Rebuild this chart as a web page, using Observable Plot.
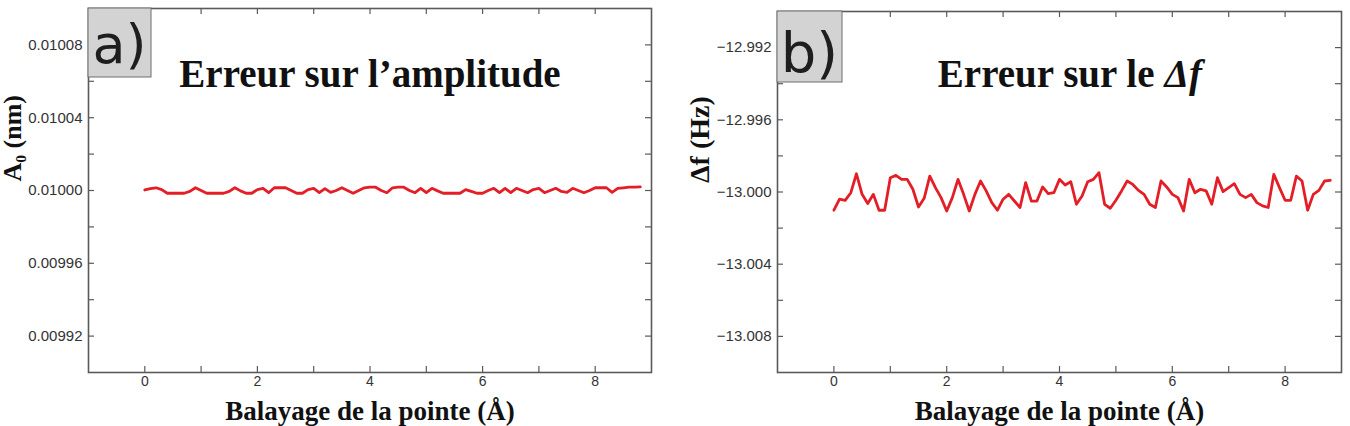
<!DOCTYPE html>
<html>
<head>
<meta charset="utf-8">
<script src="https://cdn.jsdelivr.net/npm/d3@7"></script>
<script src="https://cdn.jsdelivr.net/npm/@observablehq/plot@0.6"></script>
<style>
  html, body { margin: 0; padding: 0; background: #fff; }
  #chart { display: flex; width: 1350px; height: 426px; background: #fff; }
  #chart svg { display: block; }
</style>
</head>
<body>
<div id="chart"></div>
<script>
// Tip scan positions (Å)
const tipPositions = [
  0.0, 0.1, 0.2, 0.3, 0.4, 0.5, 0.6, 0.7, 0.8, 0.9,
  1.0, 1.1, 1.2, 1.3, 1.4, 1.5, 1.6, 1.7, 1.8, 1.9,
  2.0, 2.1, 2.2, 2.3, 2.4, 2.5, 2.6, 2.7, 2.8, 2.9,
  3.0, 3.1, 3.2, 3.3, 3.4, 3.5, 3.6, 3.7, 3.8, 3.9,
  4.0, 4.1, 4.2, 4.3, 4.4, 4.5, 4.6, 4.7, 4.8, 4.9,
  5.0, 5.1, 5.2, 5.3, 5.4, 5.5, 5.6, 5.7, 5.8, 5.9,
  6.0, 6.1, 6.2, 6.3, 6.4, 6.5, 6.6, 6.7, 6.8, 6.9,
  7.0, 7.1, 7.2, 7.3, 7.4, 7.5, 7.6, 7.7, 7.8, 7.9,
  8.0, 8.1, 8.2, 8.3, 8.4, 8.5, 8.6, 8.7, 8.8
];

// Recovered oscillation amplitude A0 (nm)
const amplitudeA0 = [
  0.0100003, 0.0100010, 0.0100015, 0.0100005, 0.0099985, 0.0099985, 0.0099985, 0.0099985, 0.0099995, 0.0100015,
  0.0100000, 0.0099985, 0.0099985, 0.0099985, 0.0099985, 0.0099995, 0.0100015, 0.0099998, 0.0099985, 0.0099985,
  0.0100005, 0.0100012, 0.0099988, 0.0100015, 0.0100015, 0.0100015, 0.0100000, 0.0099985, 0.0099985, 0.0100005,
  0.0100012, 0.0099988, 0.0100010, 0.0099990, 0.0100000, 0.0100015, 0.0100000, 0.0099985, 0.0100000, 0.0100015,
  0.0100018, 0.0100018, 0.0100000, 0.0099988, 0.0100015, 0.0100018, 0.0100018, 0.0100000, 0.0099988, 0.0100012,
  0.0099988, 0.0100012, 0.0099998, 0.0099985, 0.0099985, 0.0099985, 0.0099985, 0.0100005, 0.0099995, 0.0099985,
  0.0099985, 0.0100000, 0.0100012, 0.0099988, 0.0100012, 0.0099988, 0.0100012, 0.0100000, 0.0099988, 0.0100005,
  0.0100012, 0.0099988, 0.0100000, 0.0100012, 0.0099995, 0.0099990, 0.0100012, 0.0100000, 0.0099988, 0.0100000,
  0.0100015, 0.0100015, 0.0100015, 0.0099990, 0.0100012, 0.0100015, 0.0100018, 0.0100018, 0.0100020
];

// Recovered frequency shift Δf (Hz)
const deltaF = [
  -13.00101, -13.00040, -13.00046, -13.00004, -12.99899, -13.00013, -13.00064, -13.00013, -13.00101, -13.00101,
  -12.99921, -12.99908, -12.99930, -12.99930, -12.99985, -13.00083, -13.00035, -12.99912, -12.99976, -13.00031,
  -13.00105, -13.00031, -12.99930, -13.00013, -13.00105, -13.00013, -12.99939, -12.99994, -13.00059, -13.00101,
  -13.00040, -13.00013, -13.00050, -13.00086, -12.99948, -13.00050, -13.00050, -12.99972, -13.00009, -13.00004,
  -12.99930, -12.99961, -12.99943, -13.00068, -13.00022, -12.99943, -12.99930, -12.99893, -13.00068, -13.00090,
  -13.00046, -12.99994, -12.99939, -12.99958, -12.99991, -13.00013, -13.00068, -13.00086, -12.99939, -12.99972,
  -13.00013, -13.00031, -13.00105, -12.99930, -13.00004, -12.99985, -12.99994, -13.00068, -12.99921, -12.99998,
  -12.99976, -12.99954, -13.00013, -13.00031, -13.00013, -13.00059, -13.00077, -13.00086, -12.99902, -12.99976,
  -13.00046, -13.00046, -12.99912, -12.99939, -13.00101, -13.00013, -12.99991, -12.99939, -12.99935
];

// Axis ticks
const xTicks = [0, 1, 2, 3, 4, 5, 6, 7, 8];
const xTickLabels = [0, 2, 4, 6, 8];
const a0Ticks = [0.00992, 0.00994, 0.00996, 0.00998, 0.01000, 0.01002, 0.01004, 0.01006, 0.01008];
const a0TickLabels = [0.00992, 0.00996, 0.01000, 0.01004, 0.01008];
const dfTicks = [-13.008, -13.006, -13.004, -13.002, -13.000, -12.998, -12.996, -12.994, -12.992];
const dfTickLabels = [-13.008, -13.004, -13.000, -12.996, -12.992];

const SERIF = "'Liberation Serif', 'Times New Roman', serif";
const SANS = "'Liberation Sans', Arial, sans-serif";
const AXIS_GRAY = "#5a5a5a";
const LINE_RED = "#e41e26";
const TICK_LEN = 6;

// Grey panel tag ("a)", "b)") in the top-left corner of the frame
function panelTag(label, w, h, fontSize, baseline) {
  return (index, scales, values, dims) => {
    const g = d3.create("svg:g");
    g.append("rect")
      .attr("x", dims.marginLeft)
      .attr("y", dims.marginTop)
      .attr("width", w)
      .attr("height", h)
      .attr("fill", "#d3d3d3")
      .attr("stroke", "#6e6e6e")
      .attr("stroke-width", 1);
    g.append("text")
      .attr("x", dims.marginLeft + w / 2)
      .attr("y", dims.marginTop + baseline)
      .attr("text-anchor", "middle")
      .attr("font-family", "'DejaVu Sans', sans-serif")
      .attr("font-size", fontSize)
      .attr("fill", "#1e1e1e")
      .text(label);
    return g.node();
  };
}

function drawPanel(o) {
  const rows = tipPositions.map((x, i) => ({x, y: o.values[i]}));
  const innerH = o.height - o.marginTop - o.marginBottom;
  const innerW = o.width - o.marginLeft - o.marginRight;
  return Plot.plot({
    width: o.width,
    height: o.height,
    marginLeft: o.marginLeft,
    marginRight: o.marginRight,
    marginTop: o.marginTop,
    marginBottom: o.marginBottom,
    style: {background: "white", overflow: "visible"},
    x: {domain: [-1, 9]},
    y: {domain: o.yDomain},
    marks: [
      Plot.frame({stroke: AXIS_GRAY, strokeWidth: 1.6}),
      // inward ticks on all four sides
      Plot.tickX(xTicks, {x: d => d, insetTop: innerH - TICK_LEN, stroke: AXIS_GRAY, strokeWidth: 1.2}),
      Plot.tickX(xTicks, {x: d => d, insetBottom: innerH - TICK_LEN, stroke: AXIS_GRAY, strokeWidth: 1.2}),
      Plot.tickY(o.ticks, {y: d => d, insetRight: innerW - TICK_LEN, stroke: AXIS_GRAY, strokeWidth: 1.2}),
      Plot.tickY(o.ticks, {y: d => d, insetLeft: innerW - TICK_LEN, stroke: AXIS_GRAY, strokeWidth: 1.2}),
      Plot.axisX(xTickLabels, {tickSize: 0, tickPadding: 4, fontSize: 14, fontFamily: SANS, fill: "#333", label: null}),
      Plot.axisY(o.tickLabels, {tickSize: 0, tickPadding: 6, tickFormat: o.format, fontSize: 15, fontFamily: SANS, fill: "#333", label: null}),
      Plot.line(rows, {x: "x", y: "y", stroke: LINE_RED, strokeWidth: 2.8, strokeLinejoin: "round"}),
      // axis titles
      Plot.text([o.xLabel], {text: d => d, frameAnchor: "bottom", dy: 47, lineAnchor: "bottom",
        fontSize: 27, fontWeight: "bold", fontFamily: SERIF, fill: "#111"}),
      Plot.text([o.yLabel], {text: d => d, frameAnchor: "left", rotate: -90, dx: o.yLabelDx, dy: -9,
        lineAnchor: "bottom", fontSize: o.yLabelSize, fontWeight: "bold", fontFamily: SERIF, fill: "#111"}),
      ...o.titleMarks,
      panelTag(o.tag, o.tagW, o.tagH, o.tagFont, o.tagBaseline)
    ]
  });
}

const chart = document.getElementById("chart");

chart.append(drawPanel({
  width: 675, height: 426,
  marginLeft: 88, marginRight: 24, marginTop: 8, marginBottom: 54,
  values: amplitudeA0,
  yDomain: [0.0099, 0.0101],
  ticks: a0Ticks,
  tickLabels: a0TickLabels,
  format: d3.format(".5f"),
  xLabel: "Balayage de la pointe (Å)",
  yLabel: "A₀ (nm)",
  yLabelDx: -68,
  yLabelSize: 26,
  titleMarks: [
    Plot.text(["Erreur sur l’amplitude"], {text: d => d, frameAnchor: "top", dy: 78, lineAnchor: "bottom",
      fontSize: 39, fontWeight: "bold", fontFamily: SERIF, fill: "#111"})
  ],
  tag: "a)", tagW: 63, tagH: 69, tagFont: 54, tagBaseline: 55
}));

chart.append(drawPanel({
  width: 675, height: 426,
  marginLeft: 102, marginRight: 9, marginTop: 11, marginBottom: 54,
  values: deltaF,
  yDomain: [-13.010, -12.990],
  ticks: dfTicks,
  tickLabels: dfTickLabels,
  format: d3.format(".3f"),
  xLabel: "Balayage de la pointe (Å)",
  yLabel: "Δf (Hz)",
  yLabelDx: -69,
  yLabelSize: 28,
  titleMarks: [
    Plot.text(["Erreur sur le"], {text: d => d, frameAnchor: "top", dx: 95, dy: 75, lineAnchor: "bottom",
      textAnchor: "end", fontSize: 39, fontWeight: "bold", fontFamily: SERIF, fill: "#111"}),
    Plot.text(["Δf"], {text: d => d, frameAnchor: "top", dx: 105, dy: 75, lineAnchor: "bottom",
      textAnchor: "start", fontSize: 39, fontWeight: "bold", fontStyle: "italic", fontFamily: SERIF, fill: "#111"})
  ],
  tag: "b)", tagW: 65, tagH: 71, tagFont: 56, tagBaseline: 61
}));
</script>
</body>
</html>
